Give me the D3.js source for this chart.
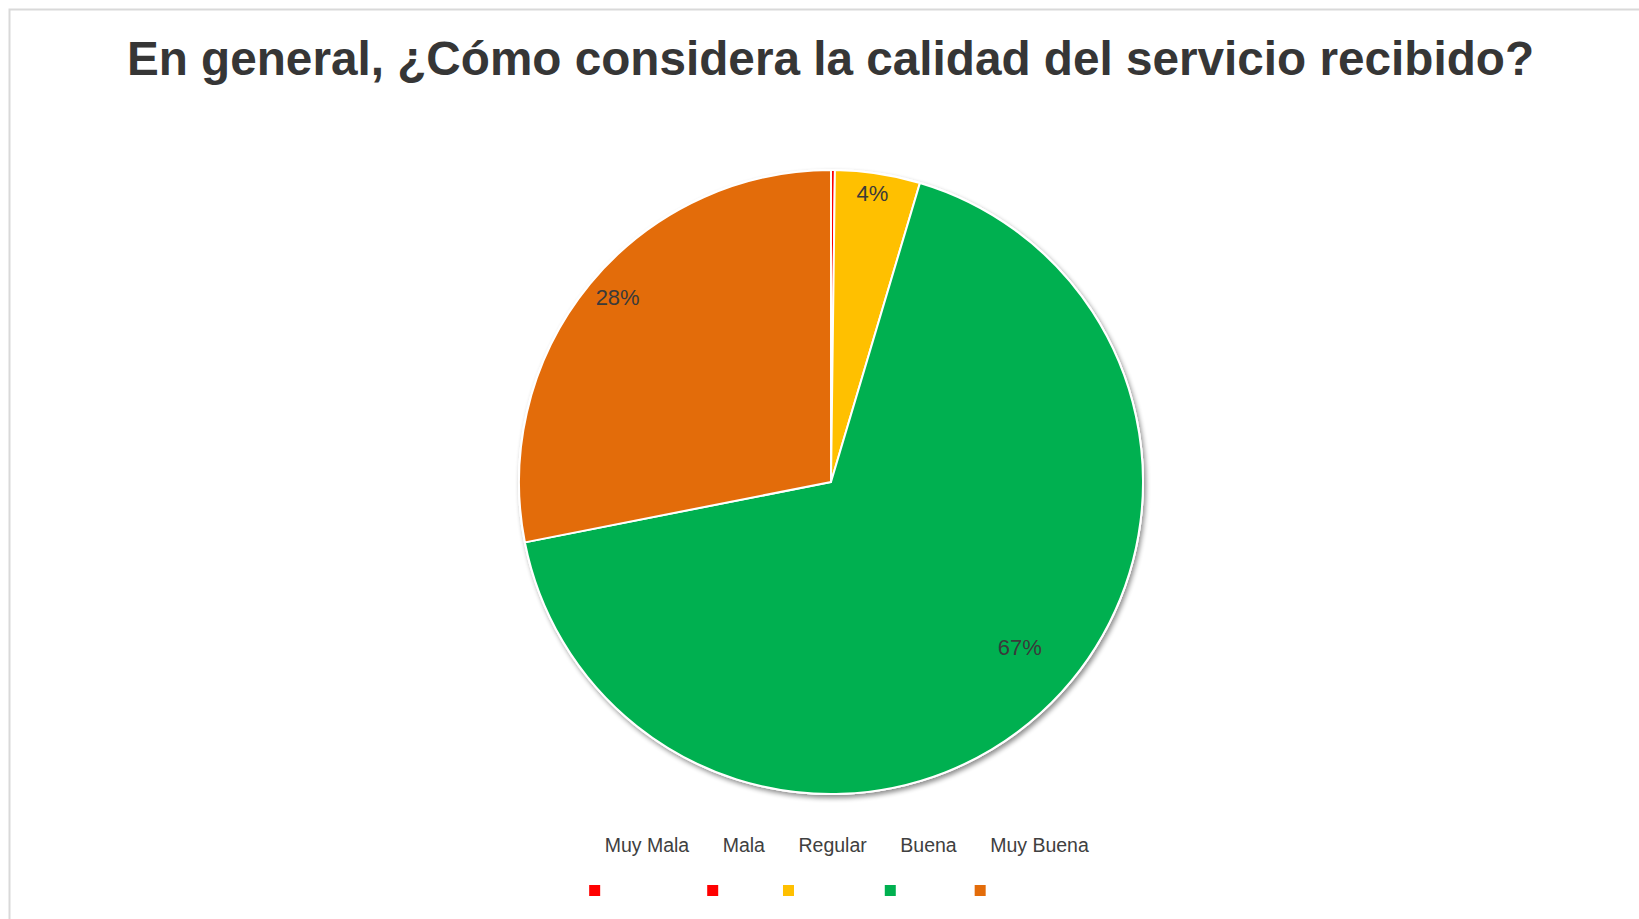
<!DOCTYPE html>
<html lang="es">
<head>
<meta charset="utf-8">
<script src="https://cdn.jsdelivr.net/npm/d3@7"></script>
<style>
  html, body { margin: 0; padding: 0; background: #ffffff; }
  svg { display: block; font-family: "Liberation Sans", Arial, sans-serif; }
</style>
</head>
<body>
<svg id="chart" width="1639" height="919"></svg>
<script>
// Survey answers: share of respondents (%) for each rating
const categories = ["Muy Mala", "Mala", "Regular", "Buena", "Muy Buena"];
const values = [0.2, 0, 4.4, 67.3, 28.1];
const colors = ["#FF0000", "#FF0000", "#FFC000", "#00B050", "#E36C0A"];
const shownLabels = ["", "", "4%", "67%", "28%"];
const title = "En general, ¿Cómo considera la calidad del servicio recibido?";

const W = 1639, H = 919;
const cx = 831, cy = 482, R = 312;

const svg = d3.select("#chart");

// Outer chart frame (extends past the right and bottom of the view)
svg.append("rect")
  .attr("x", 9.5).attr("y", 9.5)
  .attr("width", 1643).attr("height", 960)
  .attr("fill", "#ffffff")
  .attr("stroke", "#D9D9D9").attr("stroke-width", 2);

// Title
svg.append("text")
  .attr("x", 830.5).attr("y", 75)
  .attr("text-anchor", "middle")
  .attr("font-size", 47.7).attr("font-weight", "bold")
  .attr("fill", "#363636")
  .text(title);

// Soft shadow under the pie
const defs = svg.append("defs");
const f = defs.append("filter").attr("id", "pieShadow")
  .attr("x", "-10%").attr("y", "-10%").attr("width", "120%").attr("height", "120%");
f.append("feGaussianBlur").attr("in", "SourceAlpha").attr("stdDeviation", 2.5).attr("result", "b");
f.append("feOffset").attr("in", "b").attr("dx", 2).attr("dy", 3).attr("result", "o");
f.append("feComponentTransfer").attr("in", "o").attr("result", "s")
  .append("feFuncA").attr("type", "linear").attr("slope", 0.45);
const fm = f.append("feMerge");
fm.append("feMergeNode").attr("in", "s");
fm.append("feMergeNode").attr("in", "SourceGraphic");

const data = categories.map((c, i) => ({ cat: c, value: values[i], color: colors[i], label: shownLabels[i] }));

const pie = d3.pie().sort(null).value(d => d.value);
const arcs = pie(data);
const arc = d3.arc().innerRadius(0).outerRadius(R);

const g = svg.append("g").attr("transform", `translate(${cx},${cy})`);

g.append("circle").attr("r", R + 1).attr("fill", "#ffffff").attr("filter", "url(#pieShadow)");

g.selectAll("path.slice")
  .data(arcs.filter(a => a.data.value > 0))
  .join("path")
  .attr("class", "slice")
  .attr("d", arc)
  .attr("fill", d => d.data.color)
  .attr("stroke", "#ffffff")
  .attr("stroke-width", 2)
  .attr("stroke-linejoin", "round");

// Data labels placed inside each slice, near the rim
const labelPlace = { "Regular": { r: 0.935, shift: -0.5 }, "Buena": { r: 0.805, shift: -6.4 }, "Muy Buena": { r: 0.905, shift: 1.5 } };
g.selectAll("text.lbl")
  .data(arcs.filter(a => a.data.label))
  .join("text")
  .attr("class", "lbl")
  .attr("text-anchor", "middle")
  .attr("dominant-baseline", "central")
  .attr("font-size", 22)
  .attr("fill", "#3a3a3a")
  .attr("transform", d => {
    const p = labelPlace[d.data.cat];
    const a = (d.startAngle + d.endAngle) / 2 + p.shift * Math.PI / 180;
    const r = R * p.r;
    return `translate(${r * Math.sin(a)},${-r * Math.cos(a)})`;
  })
  .text(d => d.data.label);

// Legend: names on one row, colour keys on the row below
const legend = svg.append("g");
const items = legend.selectAll("g.item").data(data).join("g").attr("class", "item");
items.append("rect")
  .attr("y", 885).attr("width", 11).attr("height", 11)
  .attr("fill", d => d.color);
items.append("text")
  .attr("x", 15.5).attr("y", 852)
  .attr("font-size", 19.5)
  .attr("fill", "#404040")
  .text(d => d.cat);

let xPos = 0;
items.each(function () {
  const tw = d3.select(this).select("text").node().getComputedTextLength();
  d3.select(this).attr("transform", `translate(${xPos},0)`);
  xPos += 15.5 + tw + 18;
});
const totalW = xPos - 18;
legend.attr("transform", `translate(${839 - totalW / 2},0)`);
</script>
</body>
</html>
